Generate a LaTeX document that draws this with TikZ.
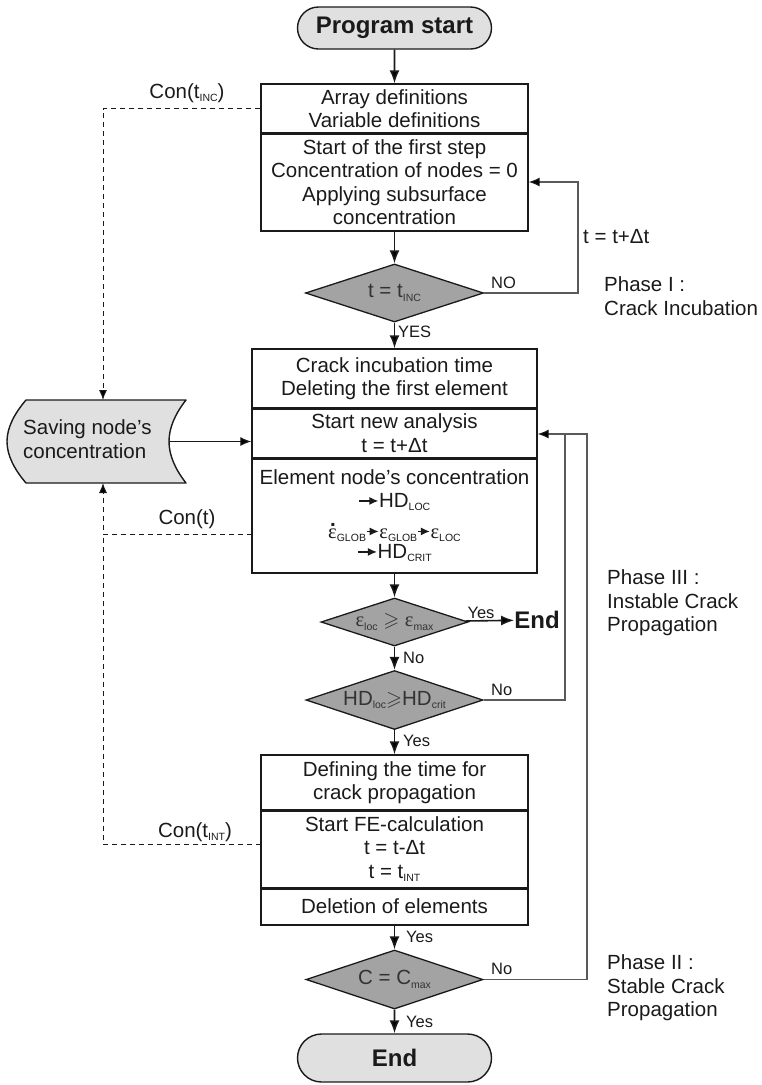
\documentclass[tikz,border=0pt]{standalone}
\usepackage{fontspec}
\setmainfont{Liberation Sans}
\newfontfamily\grk{Liberation Serif}
\usepackage{amssymb}
\usetikzlibrary{shapes.geometric,shapes.misc,arrows.meta}
\definecolor{lightfill}{HTML}{E0E0E0}
\definecolor{darkfill}{HTML}{A3A3A3}
\definecolor{ink}{HTML}{1A1A1A}
\definecolor{fbline}{HTML}{5A5A5A}
\newcommand\sub[1]{\raisebox{-0.3ex}{\fontsize{10.5}{11}\selectfont #1}}
\newcommand\rarr[1]{\tikz[baseline=-0.32em]\draw[line width=1.4pt,draw=ink,-{Latex[length=9pt,width=8pt]}] (0pt,0pt)--(#1,0pt);}
\newcommand\eps{{\grk ε}}
\newcommand\epsd{\leavevmode\rlap{\hspace{0.09em}\raisebox{0.58em}{\bfseries .}}{\grk ε}}
\begin{document}
\begin{tikzpicture}[x=1pt,y=-1pt,
  base/.style={font=\fontsize{20.5}{23.5}\selectfont, text=ink},
  sect/.style={base, draw=ink, line width=1.4pt, inner sep=0pt, align=center},
  wA/.style={minimum width=267pt},
  wB/.style={minimum width=285pt},
  divider/.style={draw=ink, line width=2.8pt},
  term/.style={rounded rectangle, draw=ink, line width=1.4pt, fill=lightfill, minimum width=194pt, font=\bfseries\fontsize{24}{28}\selectfont, text=ink, inner sep=0pt},
  decision/.style={diamond, draw=ink, line width=1.3pt, fill=darkfill, inner sep=0pt, aspect=3, base, text=black!80},
  flow/.style={draw=ink, line width=1.6pt, -{Latex[length=13pt,width=10pt]}},
  fb/.style={draw=fbline, line width=1.1pt},
  fbarrow/.style={fb, -{Latex[length=11pt,width=9pt,color=ink]}},
  conn/.style={draw=ink, line width=0.9pt, dash pattern=on 5pt off 4pt},
  conntip/.style={-{Latex[length=10pt,width=8pt]}},
  lbl/.style={font=\fontsize{16.5}{19}\selectfont, text=ink, inner sep=0pt},
  side/.style={base, align=left, anchor=west, inner sep=0pt},
  ]
\useasboundingbox (0,0) rectangle (762,1085);

% main column
\node[term, minimum height=42pt] (start) at (394.5,28) {Program start};
\node[sect,wA,minimum height=49pt] (b1a) at (394.5,108.5) {Array definitions\\Variable definitions};
\node[sect,wA,minimum height=98pt] (b1b) at (394.5,182) {Start of the first step\\Concentration of nodes = 0\\Applying subsurface\\concentration};
\draw[divider] (b1a.south west) -- (b1a.south east);
\node[decision, minimum width=178pt, minimum height=58pt] (d1) at (394.5,293) {t = t\sub{INC}};

\node[sect,wB,minimum height=59pt] (b3a) at (394.5,378.5) {Crack incubation time\\Deleting the first element};
\node[sect,wB,minimum height=50pt] (b3b) at (394.5,433) {Start new analysis\\t = t+Δt};
\node[sect,wB,minimum height=115pt] (b3c) at (394.5,515.5) {Element node’s concentration\\\rarr{19pt}HD\sub{LOC}\\[7pt]\epsd\sub{GLOB}\rarr{12pt}\eps\sub{GLOB}\rarr{12pt}\eps\sub{LOC}\\[-3pt]\rarr{19pt}HD\sub{CRIT}};
\draw[divider] (b3a.south west) -- (b3a.south east);
\draw[divider] (b3b.south west) -- (b3b.south east);

\node[decision, minimum width=147pt, minimum height=48pt] (d2) at (394.5,622) {\eps\sub{loc} $\geqslant$ \eps\sub{max}};
\node[font=\bfseries\fontsize{24}{28}\selectfont, text=ink, inner sep=0pt] (endA) at (537,620) {End};
\node[decision, minimum width=177pt, minimum height=59pt] (d3) at (394.5,700) {HD\sub{loc}$\geqslant$HD\sub{crit}};

\node[sect,wA,minimum height=55pt] (b4a) at (394.5,782.5) {Defining the time for\\crack propagation};
\node[sect,wA,minimum height=78pt] (b4b) at (394.5,849) {Start FE-calculation\\t = t-Δt\\t = t\sub{INT}};
\node[sect,wA,minimum height=37pt] (b4c) at (394.5,906.5) {Deletion of elements};
\draw[divider] (b4a.south west) -- (b4a.south east);
\draw[divider] (b4b.south west) -- (b4b.south east);

\node[decision, minimum width=177pt, minimum height=59pt] (d4) at (394.5,979.5) {C = C\sub{max}};
\node[term, minimum height=48pt] (stop) at (394.5,1058) {End};

% saving node
\coordinate (sTL) at (26,400);
\coordinate (sTR) at (186,400);
\coordinate (sBR) at (186,483);
\coordinate (sBL) at (26,483);
\coordinate (sL) at (7,441.5);
\coordinate (sR) at (169,441.5);
\draw[line width=1.4pt, draw=ink, fill=lightfill, line join=round]
  (sTL) -- (sTR) .. controls (175,414) and (169,428) .. (sR)
  .. controls (169,455) and (175,469) .. (sBR) -- (sBL)
  .. controls (14,469) and (7,455) .. (sL)
  .. controls (7,428) and (14,414) .. (sTL) -- cycle;
\node[base, align=left, inner sep=0pt, anchor=west] (save) at (23,439) {Saving node’s\\concentration};

% main arrows
\draw[flow] (start) -- (b1a);
\draw[flow] (b1b) -- (d1);
\draw[flow] (d1) -- (b3a);
\draw[flow] (b3c) -- (d2);
\draw[flow] (d2) -- (endA);
\draw[flow] (d2) -- (d3);
\draw[flow] (d3) -- (b4a);
\draw[flow] (b4c) -- (d4);
\draw[flow] (d4) -- (stop);
\draw[line width=1.1pt, draw=ink, -{Latex[length=11pt,width=9pt]}] (sR) -- (sR -| b3b.west);

% feedback loops
\coordinate (k1) at (578,182);
\coordinate (k3) at (565,434);
\coordinate (k4) at (587,434);
\draw[fbarrow] (d1.east) -| (k1) -- (b1b.east);
\draw[fbarrow] (d3.east) -| (k3) -- (k3 -| b3b.east);
\draw[fb] (d4.east) -| (k4) -- (k3);

% dashed data lines
\coordinate (dv1) at (103,400);
\coordinate (dv2) at (103,483);
\coordinate (ct) at (252,534);
\coordinate (cint) at (261,844);
\coordinate (cj) at (103,534);
\draw[conn, conntip] (b1a.west) -| (dv1);
\draw[conn, conntip] (ct) -| (dv2);
\draw[conn] (cint) -| (cj);

% labels
\node[lbl, anchor=west] (lNO) at (491,283) {NO};
\node[lbl, anchor=west] (lYES) at (398,332) {YES};
\node[lbl] (lYes1) at (481,613) {Yes};
\node[lbl, anchor=west] (lNo1) at (403,658) {No};
\node[lbl, anchor=west] (lNo2) at (491,690) {No};
\node[lbl, anchor=west] (lYes2) at (403,741) {Yes};
\node[lbl, anchor=west] (lYes3) at (406,937) {Yes};
\node[lbl, anchor=west] (lNo3) at (491,969) {No};
\node[lbl, anchor=west] (lYes4) at (406,1022) {Yes};

\node[base, inner sep=0pt] (c1) at (187,93) {Con(t\sub{INC})};
\node[base, inner sep=0pt] (c2) at (187,519) {Con(t)};
\node[base, inner sep=0pt] (c3) at (195,832) {Con(t\sub{INT})};

\node[side] (dt) at (583,237) {t = t+Δt};
\node[side] (ph1) at (604,296) {Phase I :\\Crack Incubation};
\node[side] (ph3) at (607,603) {Phase III :\\Instable Crack\\Propagation};
\node[side] (ph2) at (607,988) {Phase II :\\Stable Crack\\Propagation};
\end{tikzpicture}
\end{document}
